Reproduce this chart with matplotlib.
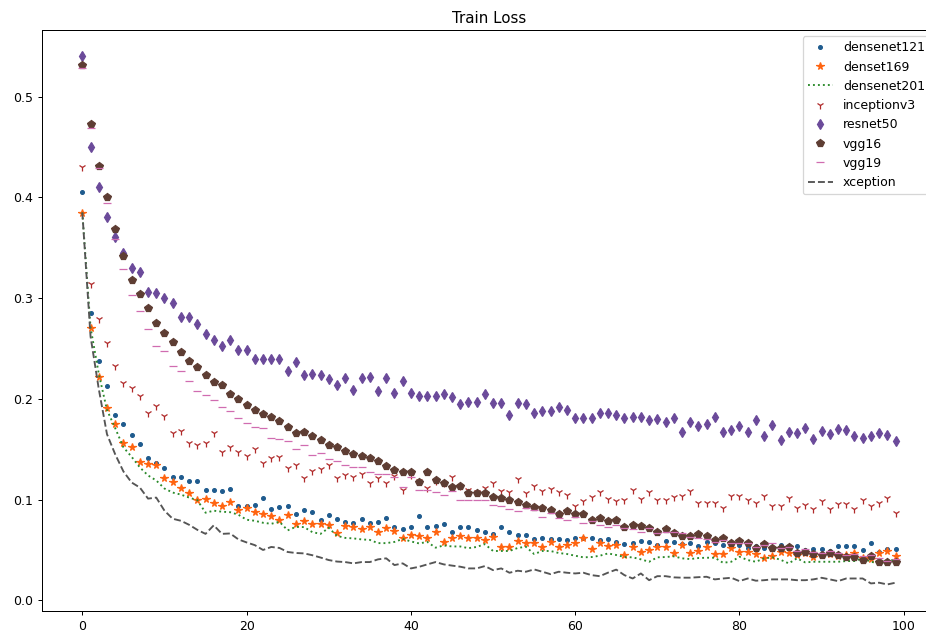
import matplotlib
matplotlib.use("Agg")
import matplotlib.pyplot as plt

# train loss per epoch
epochs = list(range(100))

densenet121 = [0.405, 0.285, 0.238, 0.213, 0.184, 0.175, 0.164, 0.155, 0.141, 0.136,
               0.131, 0.1226, 0.1226, 0.1185, 0.1185, 0.1094, 0.110, 0.109, 0.111, 0.094,
               0.094, 0.095, 0.102, 0.0906, 0.093, 0.094, 0.0853, 0.0896, 0.088, 0.0797,
               0.0846, 0.0807, 0.0774, 0.077, 0.0807, 0.077, 0.078, 0.082, 0.073, 0.0704,
               0.0724, 0.0836, 0.0724, 0.0737, 0.0757, 0.068, 0.073, 0.073, 0.0697, 0.068,
               0.066, 0.0724, 0.0674, 0.0648, 0.0648, 0.0608, 0.0615, 0.0608, 0.061, 0.0598,
               0.062, 0.062, 0.062, 0.060, 0.061, 0.058, 0.056, 0.057, 0.059, 0.058,
               0.055, 0.059, 0.058, 0.056, 0.0565, 0.054, 0.058, 0.0565, 0.055, 0.053,
               0.055, 0.052, 0.054, 0.052, 0.051, 0.0552, 0.052, 0.0538, 0.050, 0.0507,
               0.0507, 0.049, 0.0535, 0.0535, 0.0537, 0.0496, 0.057, 0.048, 0.0512, 0.0507]

densenet169 = [0.385, 0.270, 0.222, 0.191, 0.175, 0.156, 0.152, 0.137, 0.135, 0.134,
               0.121, 0.117, 0.112, 0.107, 0.0995, 0.101, 0.097, 0.094, 0.098, 0.090,
               0.092, 0.088, 0.0856, 0.084, 0.0797, 0.0846, 0.0757, 0.079, 0.0757, 0.0757,
               0.0747, 0.0664, 0.0737, 0.0724, 0.0707, 0.073, 0.068, 0.0714, 0.0687, 0.0615,
               0.0648, 0.0638, 0.0615, 0.068, 0.0575, 0.0615, 0.064, 0.062, 0.062, 0.060,
               0.0625, 0.0532, 0.053, 0.0588, 0.0571, 0.0565, 0.053, 0.058, 0.0526, 0.0548,
               0.0565, 0.0615, 0.0506, 0.0565, 0.0538, 0.0548, 0.045, 0.0532, 0.048, 0.050,
               0.0532, 0.053, 0.047, 0.0548, 0.0466, 0.0489, 0.0532, 0.046, 0.046, 0.052,
               0.0476, 0.048, 0.046, 0.0417, 0.0443, 0.048, 0.047, 0.045, 0.047, 0.0433,
               0.045, 0.046, 0.044, 0.045, 0.047, 0.042, 0.041, 0.047, 0.049, 0.044]

densenet201 = [0.385, 0.271, 0.225, 0.189, 0.171, 0.152, 0.1425, 0.132, 0.124, 0.119,
               0.111, 0.107, 0.105, 0.102, 0.0995, 0.087, 0.089, 0.088, 0.0875, 0.085,
               0.080, 0.079, 0.077, 0.076, 0.078, 0.0695, 0.073, 0.0727, 0.0677, 0.066,
               0.072, 0.064, 0.062, 0.0615, 0.0605, 0.060, 0.0568, 0.0568, 0.058, 0.061,
               0.0585, 0.0565, 0.058, 0.0523, 0.0545, 0.0535, 0.0535, 0.0518, 0.053, 0.0558,
               0.049, 0.049, 0.049, 0.052, 0.0532, 0.046, 0.049, 0.049, 0.047, 0.046,
               0.0443, 0.0427, 0.043, 0.0443, 0.0466, 0.045, 0.043, 0.0427, 0.0407, 0.0383,
               0.0427, 0.043, 0.0437, 0.0417, 0.041, 0.042, 0.0423, 0.0423, 0.0373, 0.0383,
               0.0433, 0.040, 0.0383, 0.0417, 0.0427, 0.0403, 0.0367, 0.0417, 0.0377, 0.0383,
               0.0383, 0.0383, 0.0383, 0.039, 0.039, 0.0417, 0.0383, 0.0367, 0.0383, 0.041]

inceptionv3 = [0.430, 0.314, 0.279, 0.255, 0.2325, 0.216, 0.211, 0.203, 0.186, 0.193,
               0.183, 0.166, 0.168, 0.156, 0.154, 0.156, 0.166, 0.147, 0.152, 0.147,
               0.143, 0.150, 0.136, 0.141, 0.142, 0.131, 0.134, 0.121, 0.128, 0.130,
               0.134, 0.121, 0.124, 0.122, 0.125, 0.116, 0.121, 0.116, 0.123, 0.110,
               0.124, 0.118, 0.112, 0.118, 0.116, 0.122, 0.114, 0.110, 0.108, 0.112,
               0.116, 0.109, 0.108, 0.120, 0.107, 0.114, 0.109, 0.111, 0.108, 0.105,
               0.094, 0.099, 0.103, 0.108, 0.101, 0.099, 0.100, 0.110, 0.101, 0.108,
               0.100, 0.100, 0.103, 0.104, 0.109, 0.097, 0.097, 0.097, 0.092, 0.104,
               0.104, 0.100, 0.097, 0.104, 0.0935, 0.0935, 0.102, 0.092, 0.095, 0.091,
               0.099, 0.091, 0.096, 0.096, 0.091, 0.0995, 0.0935, 0.097, 0.102, 0.087]

resnet50 = [0.540, 0.450, 0.410, 0.381, 0.361, 0.345, 0.330, 0.326, 0.306, 0.305,
            0.300, 0.295, 0.281, 0.281, 0.274, 0.264, 0.258, 0.253, 0.258, 0.249,
            0.249, 0.240, 0.240, 0.240, 0.240, 0.228, 0.237, 0.224, 0.225, 0.224,
            0.220, 0.214, 0.221, 0.209, 0.221, 0.222, 0.208, 0.221, 0.206, 0.218,
            0.206, 0.203, 0.203, 0.203, 0.205, 0.202, 0.195, 0.197, 0.197, 0.205,
            0.196, 0.196, 0.184, 0.196, 0.195, 0.186, 0.188, 0.188, 0.192, 0.189,
            0.181, 0.181, 0.181, 0.186, 0.186, 0.184, 0.181, 0.182, 0.182, 0.179,
            0.180, 0.177, 0.181, 0.167, 0.177, 0.173, 0.175, 0.182, 0.167, 0.169,
            0.173, 0.167, 0.179, 0.163, 0.174, 0.159, 0.167, 0.166, 0.171, 0.160,
            0.168, 0.165, 0.170, 0.169, 0.163, 0.161, 0.163, 0.166, 0.164, 0.158]

vgg16 = [0.531, 0.4725, 0.431, 0.400, 0.369, 0.342, 0.318, 0.304, 0.290, 0.275,
         0.265, 0.256, 0.247, 0.238, 0.232, 0.224, 0.217, 0.214, 0.205, 0.200,
         0.194, 0.189, 0.185, 0.182, 0.178, 0.172, 0.166, 0.167, 0.163, 0.159,
         0.154, 0.152, 0.148, 0.145, 0.143, 0.141, 0.138, 0.133, 0.129, 0.127,
         0.127, 0.117, 0.127, 0.119, 0.116, 0.113, 0.114, 0.107, 0.107, 0.107,
         0.103, 0.102, 0.0995, 0.098, 0.0945, 0.093, 0.092, 0.090, 0.086, 0.089,
         0.0856, 0.0856, 0.080, 0.082, 0.0787, 0.080, 0.073, 0.0747, 0.0737, 0.072,
         0.068, 0.0707, 0.0664, 0.064, 0.064, 0.0655, 0.0638, 0.0598, 0.0615, 0.0565,
         0.0588, 0.0565, 0.0516, 0.056, 0.0516, 0.0516, 0.053, 0.0466, 0.048, 0.046,
         0.045, 0.047, 0.045, 0.043, 0.043, 0.040, 0.044, 0.0377, 0.0377, 0.038]

vgg19 = [0.529, 0.4685, 0.429, 0.394, 0.359, 0.329, 0.3035, 0.287, 0.269, 0.2526,
         0.248, 0.233, 0.228, 0.218, 0.2077, 0.2037, 0.199, 0.192, 0.188, 0.1815,
         0.176, 0.172, 0.1715, 0.1607, 0.160, 0.158, 0.150, 0.154, 0.1445, 0.1465,
         0.140, 0.138, 0.134, 0.132, 0.132, 0.1276, 0.125, 0.125, 0.1226, 0.1127,
         0.1226, 0.1094, 0.110, 0.1077, 0.105, 0.1087, 0.0995, 0.0995, 0.0995, 0.100,
         0.0945, 0.0935, 0.0906, 0.089, 0.092, 0.0896, 0.0823, 0.0863, 0.0813, 0.0797,
         0.083, 0.0764, 0.079, 0.0747, 0.073, 0.075, 0.072, 0.0704, 0.068, 0.0714,
         0.0664, 0.068, 0.068, 0.0664, 0.063, 0.0615, 0.061, 0.058, 0.0598, 0.0565,
         0.057, 0.057, 0.053, 0.055, 0.057, 0.052, 0.053, 0.049, 0.051, 0.048,
         0.047, 0.049, 0.047, 0.045, 0.046, 0.044, 0.045, 0.042, 0.039, 0.041]

xception = [0.385, 0.262, 0.210, 0.165, 0.145, 0.128, 0.117, 0.112, 0.101, 0.102,
            0.089, 0.081, 0.079, 0.075, 0.070, 0.066, 0.0745, 0.066, 0.0664, 0.0605,
            0.0575, 0.0548, 0.050, 0.053, 0.052, 0.048, 0.047, 0.0466, 0.0448, 0.0425,
            0.040, 0.0385, 0.038, 0.0367, 0.038, 0.038, 0.0407, 0.0417, 0.035, 0.0367,
            0.0317, 0.0333, 0.0357, 0.038, 0.0357, 0.0345, 0.0334, 0.0317, 0.0317, 0.034,
            0.030, 0.0317, 0.0274, 0.0294, 0.0284, 0.0307, 0.0284, 0.026, 0.0284, 0.0274,
            0.0267, 0.0274, 0.025, 0.024, 0.0275, 0.0305, 0.025, 0.0217, 0.0267, 0.020,
            0.024, 0.024, 0.0228, 0.0225, 0.0225, 0.023, 0.0234, 0.0208, 0.0217, 0.0224,
            0.0191, 0.0217, 0.0195, 0.020, 0.0208, 0.0208, 0.0208, 0.020, 0.020, 0.0208,
            0.0224, 0.0208, 0.0191, 0.0217, 0.0217, 0.0217, 0.0168, 0.0175, 0.0158, 0.0175]

fig = plt.figure(figsize=(926 / 90, 632 / 90), dpi=90)
# the original is cropped on the right, so the axes run past the figure edge
ax = fig.add_axes([0.045, 0.0335, 0.966, 0.919])

ax.plot(epochs, densenet121, '.', color='#1f5b8e', label='densenet121')
ax.plot(epochs, densenet169, '*', color='#ff6410', label='denset169')
ax.plot(epochs, densenet201, ':', color='#2a8a2a', label='densenet201')
ax.plot(epochs, inceptionv3, '1', color='#b02a2a', label='inceptionv3')
ax.plot(epochs, resnet50, 'd', color='#6b4a9a', label='resnet50')
ax.plot(epochs, vgg16, 'p', color='#5e3d33', label='vgg16')
ax.plot(epochs, vgg19, '_', color='#d06cb0', label='vgg19')
ax.plot(epochs, xception, '--', color='#555555', label='xception')

ax.set_title('Train Loss')
ax.legend(loc='upper right')

fig.savefig('out.png', dpi=90)
